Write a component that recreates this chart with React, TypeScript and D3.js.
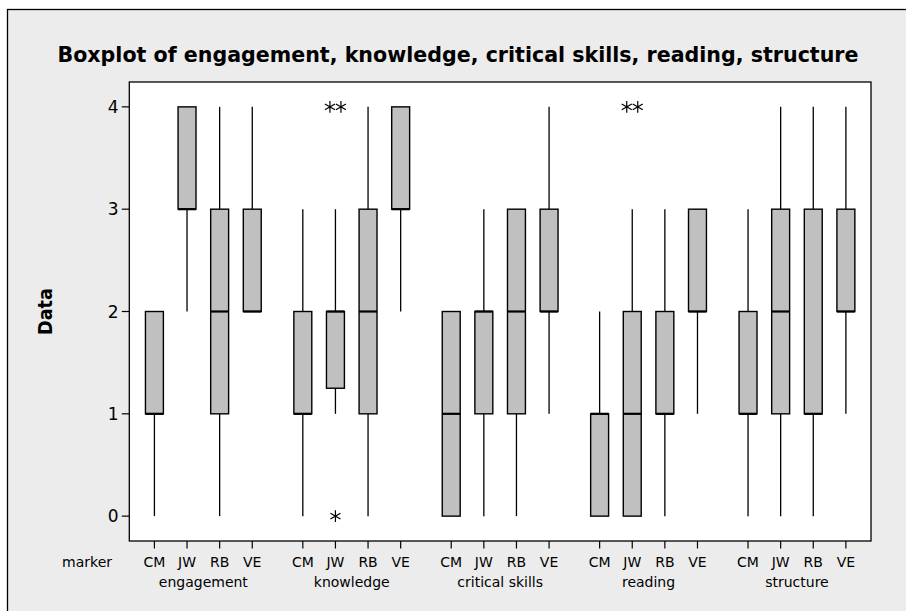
import React from "react";
import * as d3 from "d3";

const groups = ["engagement", "knowledge", "critical skills", "reading", "structure"];
const markers = ["CM", "JW", "RB", "VE"];

// box stats, group-major order (engagement CM, JW, RB, VE, knowledge CM, ...)
const whiskerLow = [0, 2, 0, 2, 0, 1, 0, 2, 0, 0, 0, 1, 0, 0, 0, 1, 0, 0, 0, 1];
const q1 = [1, 3, 1, 2, 1, 1.25, 1, 3, 0, 1, 1, 2, 0, 0, 1, 2, 1, 1, 1, 2];
const median = [1, 3, 2, 2, 1, 2, 2, 3, 1, 2, 2, 2, 1, 1, 1, 2, 1, 2, 1, 2];
const q3 = [2, 4, 3, 3, 2, 2, 3, 4, 2, 2, 3, 3, 1, 2, 2, 3, 2, 3, 3, 3];
const whiskerHigh = [2, 4, 4, 4, 3, 3, 4, 4, 2, 3, 3, 4, 2, 3, 3, 3, 3, 4, 4, 4];

// outliers: box index and value
const outlierBox = [5, 5, 5, 13, 13];
const outlierValue = [4, 4, 0, 4, 4];

const yTicks = [0, 1, 2, 3, 4];

const W = 906;
const H = 611;
const plotL = 129.3;
const plotR = 871;
const plotT = 82;
const plotB = 541;
const groupStep = 4.55;
const pad = 0.77;

const FONT = "'DejaVu Sans', Verdana, sans-serif";
const FONT_C = "'DejaVu Sans Condensed', 'DejaVu Sans', sans-serif";

export default function App() {
  const nG = groups.length;
  const nM = markers.length;
  const x = d3
    .scaleLinear()
    .domain([-pad, (nG - 1) * groupStep + (nM - 1) + pad])
    .range([plotL, plotR]);
  const y = d3.scaleLinear().domain([-0.243, 4.243]).range([plotB, plotT]);
  const slot = x(1) - x(0);
  const bw = slot * 0.55;

  const boxes = [];
  groups.forEach((g, gi) => {
    markers.forEach((m, mi) => {
      const idx = gi * nM + mi;
      boxes.push({ idx, gi, mi, cx: x(gi * groupStep + mi) });
    });
  });

  // outliers with side-by-side placement for duplicates
  const outs = outlierBox.map((b, i) => ({ b, v: outlierValue[i], k: 0, n: 0 }));
  outs.forEach((o) => {
    const same = outs.filter((p) => p.b === o.b && p.v === o.v);
    o.n = same.length;
    o.k = same.indexOf(o);
  });
  const star = d3.symbol(d3.symbolAsterisk, 95)();

  return (
    <svg
      width={W}
      height={H}
      style={{ position: "absolute", left: 0, top: 0, background: "#fff" }}
    >
      <rect x={7.5} y={9.5} width={1000} height={1000} fill="#ECECEC" stroke="#000" strokeWidth={1.3} />
      <text
        x={458}
        y={61.5}
        textAnchor="middle"
        fontFamily={FONT_C}
        fontWeight="bold"
        fontSize={22}
        textLength={801}
        lengthAdjust="spacingAndGlyphs"
        fill="#000"
      >
        Boxplot of engagement, knowledge, critical skills, reading, structure
      </text>
      <rect x={plotL} y={plotT} width={plotR - plotL} height={plotB - plotT} fill="#fff" stroke="#000" strokeWidth={1.3} />

      {/* y axis */}
      {yTicks.map((t) => (
        <g key={t}>
          <line x1={plotL - 7.5} x2={plotL} y1={y(t)} y2={y(t)} stroke="#000" strokeWidth={1.2} />
          <text x={118.5} y={y(t)} dy="0.36em" textAnchor="end" fontFamily={FONT} fontSize={17} fill="#000">
            {t}
          </text>
        </g>
      ))}
      <text
        transform={`translate(52,${(plotT + plotB) / 2}) rotate(-90)`}
        textAnchor="middle"
        fontFamily={FONT_C}
        fontWeight="bold"
        fontSize={19}
        textLength={47}
        lengthAdjust="spacingAndGlyphs"
        fill="#000"
      >
        Data
      </text>

      {/* x axis */}
      {boxes.map((b) => (
        <g key={"t" + b.idx}>
          <line x1={b.cx} x2={b.cx} y1={plotB} y2={plotB + 7.5} stroke="#000" strokeWidth={1.2} />
          <text x={b.cx} y={566.5} textAnchor="middle" fontFamily={FONT} fontSize={14} fill="#000">
            {markers[b.mi]}
          </text>
        </g>
      ))}
      {groups.map((g, gi) => (
        <text
          key={g}
          x={(x(gi * groupStep) + x(gi * groupStep + nM - 1)) / 2}
          y={587}
          textAnchor="middle"
          fontFamily={FONT}
          fontSize={14}
          fill="#000"
        >
          {g}
        </text>
      ))}
      <text x={112} y={566.5} textAnchor="end" fontFamily={FONT} fontSize={14} fill="#000">
        marker
      </text>

      {/* boxes */}
      {boxes.map((b) => {
        const i = b.idx;
        return (
          <g key={"b" + i}>
            <line x1={b.cx} x2={b.cx} y1={y(whiskerHigh[i])} y2={y(q3[i])} stroke="#000" strokeWidth={1.3} />
            <line x1={b.cx} x2={b.cx} y1={y(q1[i])} y2={y(whiskerLow[i])} stroke="#000" strokeWidth={1.3} />
            <rect
              x={b.cx - bw / 2}
              y={y(q3[i])}
              width={bw}
              height={y(q1[i]) - y(q3[i])}
              fill="#C0C0C0"
              stroke="#000"
              strokeWidth={1.4}
            />
            <line
              x1={b.cx - bw / 2}
              x2={b.cx + bw / 2}
              y1={y(median[i])}
              y2={y(median[i])}
              stroke="#000"
              strokeWidth={2.2}
            />
          </g>
        );
      })}

      {/* outliers */}
      {outs.map((o, i) => {
        const bx = boxes[o.b].cx + (o.k - (o.n - 1) / 2) * 11;
        return (
          <path
            key={"o" + i}
            d={star}
            transform={`translate(${bx},${y(o.v)})`}
            fill="none"
            stroke="#000"
            strokeWidth={1.2}
          />
        );
      })}
    </svg>
  );
}
